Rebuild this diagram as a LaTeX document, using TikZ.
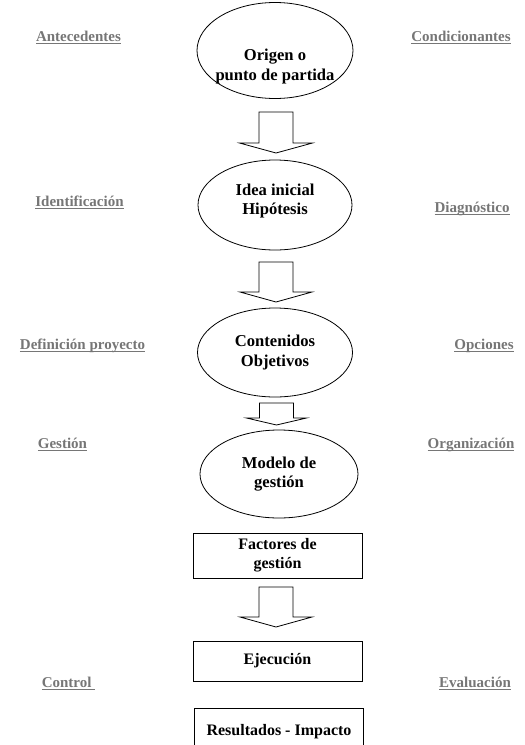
\documentclass[tikz,border=0pt]{standalone}
\usepackage{fontspec}
\setmainfont{Liberation Serif}
\usepackage{amsmath}
\usetikzlibrary{shapes.geometric,positioning,calc}
\definecolor{grisetiqueta}{RGB}{118,118,118}

\tikzset{
  elipse/.style={draw=black, ellipse, line width=0.8pt, inner sep=-10pt, align=center, font=\fontsize{16.6}{19.5}\selectfont\bfseries},
  caja/.style={draw=black, rectangle, line width=0.8pt, minimum width=169pt, align=center, font=\fontsize{16}{19}\selectfont\bfseries},
  etiqueta/.style={text=grisetiqueta, anchor=base, font=\fontsize{15}{18}\selectfont\bfseries},
  flecha/.style={draw=black, line width=0.8pt, fill=white}
}
\newcommand{\subrayado}[1]{\underline{\smash[b]{#1}}}
% x, y arriba, y punta, media cabeza, largo cabeza
\newcommand{\flechabloque}[5]{%
  \draw[flecha] ({#1-17},#2) -- ({#1-17},{#3-#5}) -- ({#1-#4},{#3-#5}) -- (#1,#3)
    -- ({#1+#4},{#3-#5}) -- ({#1+17},{#3-#5}) -- ({#1+17},#2) -- cycle;}

\begin{document}
\begin{tikzpicture}[x=1pt,y=-1pt]
\useasboundingbox (0,0) rectangle (525,745);
\clip (0,0) rectangle (525,745);

% columna central
\node [elipse, minimum width=156pt, minimum height=96pt] (origen) at (275,50.5) {\rule{0pt}{44pt}Origen o\\punto de partida};
\node [elipse, minimum width=154pt, minimum height=90pt] (idea) at (275,205) {Idea inicial\\Hipótesis\rule[-12pt]{0pt}{0pt}};
\node [elipse, minimum width=155pt, minimum height=89pt] (contenidos) at (275,352.5) {Contenidos\\Objetivos};
\node [elipse, minimum width=158pt, minimum height=88pt] (modelo) at (279,474) {Modelo de\\gestión};
\node [caja, minimum height=45pt] (factores) at (277.5,555.5) {Factores de\\gestión};
\node [caja, minimum height=40pt] (ejecucion) at (277.5,661) {Ejecución};
\node [caja, minimum height=48pt] (resultados) at (279,732) {Resultados - Impacto};

% flechas
\flechabloque{276}{112}{153}{36.5}{10}
\flechabloque{276}{262}{302}{36}{10}
\flechabloque{276.5}{403}{425}{30}{7}
\flechabloque{276}{587}{627}{36}{10}

% etiquetas izquierda
\node [etiqueta] (antecedentes) at (78.5,41) {\subrayado{Antecedentes}};
\node [etiqueta] (identificacion) at (79.5,206) {\subrayado{Identificación}};
\node [etiqueta] (definicion) at (82.5,349) {\subrayado{Definición proyecto}};
\node [etiqueta] (gestion) at (62.5,448) {\subrayado{Gestión}};
\node [etiqueta] (control) at (68.5,687) {\subrayado{Control~}};

% etiquetas derecha
\node [etiqueta] (condicionantes) at (461,41) {\subrayado{Condicionantes}};
\node [etiqueta] (diagnostico) at (472,212) {\subrayado{Diagnóstico}};
\node [etiqueta] (opciones) at (484,349) {\subrayado{Opciones}};
\node [etiqueta] (organizacion) at (471,448) {\subrayado{Organización}};
\node [etiqueta] (evaluacion) at (475,687) {\subrayado{Evaluación}};

\end{tikzpicture}
\end{document}
